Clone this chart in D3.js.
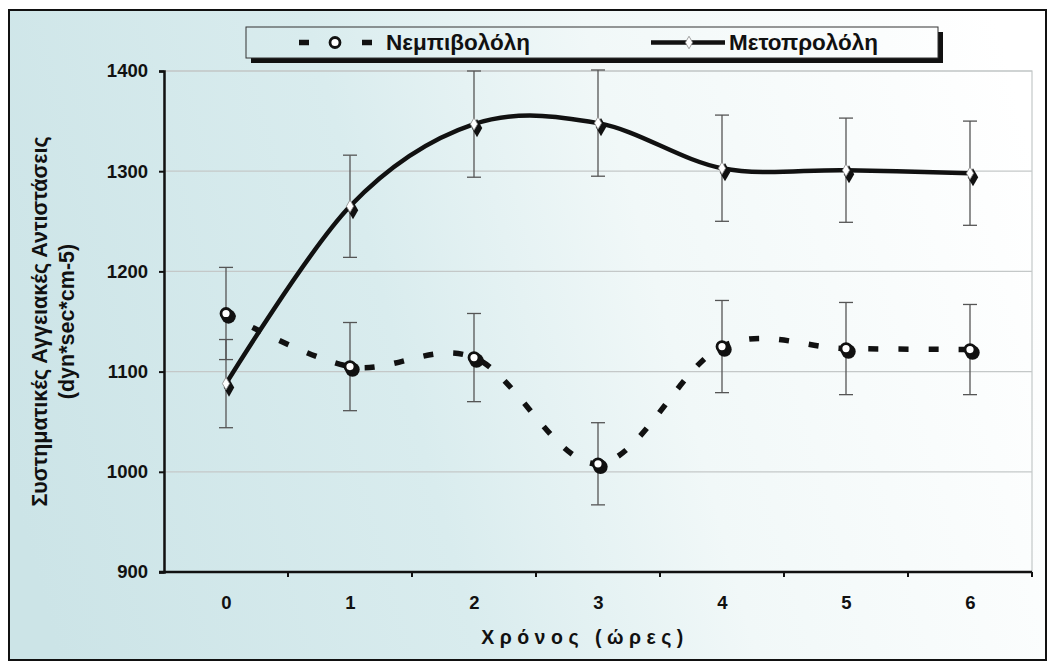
<!DOCTYPE html>
<html>
<head>
<meta charset="utf-8">
<script src="https://cdn.jsdelivr.net/npm/d3@7"></script>
<style>
  html, body { margin: 0; padding: 0; background: #fff; }
  svg { display: block; }
</style>
</head>
<body>
<svg id="chart" width="1055" height="668"></svg>
<script>
// ---------------- data ----------------
const categories = ["0", "1", "2", "3", "4", "5", "6"];
const nebivololValues = [1158, 1105, 1114, 1008, 1125, 1123, 1122];
const nebivololErrors = [46, 44, 44, 41, 46, 46, 45];
const metoprololValues = [1088, 1265, 1347, 1348, 1303, 1301, 1298];
const metoprololErrors = [44, 51, 53, 53, 53, 52, 52];
const yTicks = [900, 1000, 1100, 1200, 1300, 1400];
const seriesNames = ["Νεμπιβολόλη", "Μετοπρολόλη"];
const yTitle = ["Συστηματικές Αγγειακές Αντιστάσεις", "(dyn*sec*cm-5)"];
const xTitle = "Χρόνος (ώρες)";

// ---------------- layout ----------------
const svg = d3.select("#chart");
const W = 1055, H = 668;
const plot = { left: 164, right: 1032, top: 71, bottom: 572 };
const boldFont = "'Liberation Sans', Arial, sans-serif";

const defs = svg.append("defs");
const grad = defs.append("linearGradient")
  .attr("id", "bg").attr("gradientUnits", "userSpaceOnUse")
  .attr("x1", 10).attr("y1", 480).attr("x2", 1045).attr("y2", 200);
grad.append("stop").attr("offset", "0%").attr("stop-color", "#cce4e7");
grad.append("stop").attr("offset", "38%").attr("stop-color", "#d9ecee");
grad.append("stop").attr("offset", "63%").attr("stop-color", "#f1f8f8");
grad.append("stop").attr("offset", "100%").attr("stop-color", "#ffffff");

// outer frame
svg.append("rect").attr("x", 0).attr("y", 0).attr("width", W).attr("height", H).attr("fill", "#fff");
svg.append("rect").attr("x", 9).attr("y", 10).attr("width", 1037).attr("height", 650)
  .attr("fill", "url(#bg)").attr("stroke", "#111").attr("stroke-width", 2);

// scales
const x = d3.scalePoint().domain(categories).range([plot.left, plot.right]).padding(0.5);
const band = d3.scaleBand().domain(categories).range([plot.left, plot.right]);
const y = d3.scaleLinear().domain([900, 1400]).range([plot.bottom, plot.top]);

// plot area border (light) and gridlines
svg.append("rect").attr("x", plot.left).attr("y", plot.top)
  .attr("width", plot.right - plot.left).attr("height", plot.bottom - plot.top)
  .attr("fill", "none").attr("stroke", "#c4c8c8").attr("stroke-width", 1.2);

svg.append("g").selectAll("line").data(yTicks.filter(t => t > 900)).join("line")
  .attr("x1", plot.left).attr("x2", plot.right)
  .attr("y1", d => y(d)).attr("y2", d => y(d))
  .attr("stroke", "#c4c8c8").attr("stroke-width", 1.2);

// y axis
const yAxis = svg.append("g").attr("transform", `translate(${plot.left},0)`)
  .call(d3.axisLeft(y).tickValues(yTicks).tickSize(5).tickPadding(11).tickFormat(d3.format("d")));
yAxis.select(".domain").attr("stroke", "#111").attr("stroke-width", 2.5);
yAxis.selectAll(".tick line").attr("stroke", "#111").attr("stroke-width", 2);
yAxis.selectAll(".tick text").attr("font-family", boldFont).attr("font-weight", "bold")
  .attr("font-size", 18.5).attr("fill", "#111");

// x axis
const xAxis = svg.append("g").attr("transform", `translate(0,${plot.bottom})`)
  .call(d3.axisBottom(x).tickSize(0).tickPadding(24));
xAxis.select(".domain").attr("stroke", "#111").attr("stroke-width", 2.5)
  .attr("d", `M${plot.left - 5},0H${plot.right}`);
xAxis.selectAll(".tick text").attr("font-family", boldFont).attr("font-weight", "bold")
  .attr("font-size", 18.5).attr("fill", "#111");
svg.append("g").selectAll("line").data(categories).join("line")
  .attr("x1", d => band(d) + band.bandwidth()).attr("x2", d => band(d) + band.bandwidth())
  .attr("y1", plot.bottom).attr("y2", plot.bottom + 5)
  .attr("stroke", "#111").attr("stroke-width", 2);

// axis titles
svg.append("text")
  .attr("x", (plot.left + plot.right) / 2 - 13).attr("y", 644)
  .attr("text-anchor", "middle")
  .attr("font-family", boldFont).attr("font-weight", "bold").attr("font-size", 19.5)
  .attr("letter-spacing", 5.5).attr("fill", "#111")
  .text(xTitle);

const yt = svg.append("text")
  .attr("transform", `translate(47,${(plot.top + plot.bottom) / 2}) rotate(-90)`)
  .attr("text-anchor", "middle")
  .attr("font-family", boldFont).attr("font-weight", "bold").attr("font-size", 21.5)
  .attr("fill", "#111");
yt.append("tspan").attr("x", 0).attr("dy", 0).text(yTitle[0]);
yt.append("tspan").attr("x", 0).attr("dy", 27).text(yTitle[1]);

// error bars
function errorBars(values, errs, g) {
  const data = values.map((v, i) => ({ c: categories[i], v, e: errs[i] }));
  const cap = 7;
  g.selectAll("line.v").data(data).join("line").attr("class", "v")
    .attr("x1", d => x(d.c)).attr("x2", d => x(d.c))
    .attr("y1", d => y(d.v - d.e)).attr("y2", d => y(d.v + d.e));
  g.selectAll("line.t").data(data).join("line").attr("class", "t")
    .attr("x1", d => x(d.c) - cap).attr("x2", d => x(d.c) + cap)
    .attr("y1", d => y(d.v + d.e)).attr("y2", d => y(d.v + d.e));
  g.selectAll("line.b").data(data).join("line").attr("class", "b")
    .attr("x1", d => x(d.c) - cap).attr("x2", d => x(d.c) + cap)
    .attr("y1", d => y(d.v - d.e)).attr("y2", d => y(d.v - d.e));
  g.selectAll("line").attr("stroke", "#555").attr("stroke-width", 1.3);
}
errorBars(metoprololValues, metoprololErrors, svg.append("g"));
errorBars(nebivololValues, nebivololErrors, svg.append("g"));

// lines
const lineGen = d3.line().x((d, i) => x(categories[i])).y(d => y(d)).curve(d3.curveCatmullRom.alpha(0));

svg.append("path").datum(nebivololValues)
  .attr("d", lineGen).attr("fill", "none").attr("stroke", "#111")
  .attr("stroke-width", 5.5).attr("stroke-dasharray", "10,20");

svg.append("path").datum(metoprololValues)
  .attr("d", lineGen).attr("fill", "none").attr("stroke", "#111")
  .attr("stroke-width", 4.5);

// markers
const diamond = d3.symbol().type(d3.symbolDiamond);
function nebMarker(g, cx, cy) {
  g.append("circle").attr("cx", cx + 2.5).attr("cy", cy + 3).attr("r", 7.2).attr("fill", "#111");
  g.append("circle").attr("cx", cx).attr("cy", cy).attr("r", 5)
    .attr("fill", "#fff").attr("stroke", "#111").attr("stroke-width", 2.8);
}
function metMarker(g, cx, cy) {
  g.append("path").attr("d", diamond.size(95)()).attr("transform", `translate(${cx + 3},${cy + 4})`).attr("fill", "#111");
  g.append("path").attr("d", diamond.size(45)()).attr("transform", `translate(${cx},${cy})`)
    .attr("fill", "#fff").attr("stroke", "#888").attr("stroke-width", 0.8);
}
const mg = svg.append("g");
nebivololValues.forEach((v, i) => nebMarker(mg, x(categories[i]), y(v)));
metoprololValues.forEach((v, i) => metMarker(mg, x(categories[i]), y(v)));

// legend
const lg = svg.append("g");
const L = { x: 246, y: 27, w: 692, h: 31 };
lg.append("rect").attr("x", L.x + 5).attr("y", L.y + 5).attr("width", L.w).attr("height", L.h).attr("fill", "#111");
lg.append("rect").attr("x", L.x).attr("y", L.y).attr("width", L.w).attr("height", L.h)
  .attr("fill", "url(#bg)").attr("stroke", "#333").attr("stroke-width", 1);
const ly = L.y + L.h / 2;
lg.append("line").attr("x1", 299).attr("x2", 309).attr("y1", ly).attr("y2", ly).attr("stroke", "#111").attr("stroke-width", 5.5);
lg.append("line").attr("x1", 362).attr("x2", 372).attr("y1", ly).attr("y2", ly).attr("stroke", "#111").attr("stroke-width", 5.5);
lg.append("circle").attr("cx", 335).attr("cy", ly).attr("r", 5).attr("fill", "#fff").attr("stroke", "#111").attr("stroke-width", 2.8);
lg.append("text").attr("x", 386).attr("y", ly + 7.5)
  .attr("font-family", boldFont).attr("font-weight", "bold").attr("font-size", 22.5).attr("fill", "#111")
  .text(seriesNames[0]);
lg.append("line").attr("x1", 651).attr("x2", 725).attr("y1", ly).attr("y2", ly).attr("stroke", "#111").attr("stroke-width", 4.5);
lg.append("path").attr("d", diamond.size(45)()).attr("transform", `translate(689,${ly})`)
  .attr("fill", "#fff").attr("stroke", "#888").attr("stroke-width", 0.8);
lg.append("text").attr("x", 729).attr("y", ly + 7.5)
  .attr("font-family", boldFont).attr("font-weight", "bold").attr("font-size", 22.5).attr("fill", "#111")
  .text(seriesNames[1]);
</script>
</body>
</html>
